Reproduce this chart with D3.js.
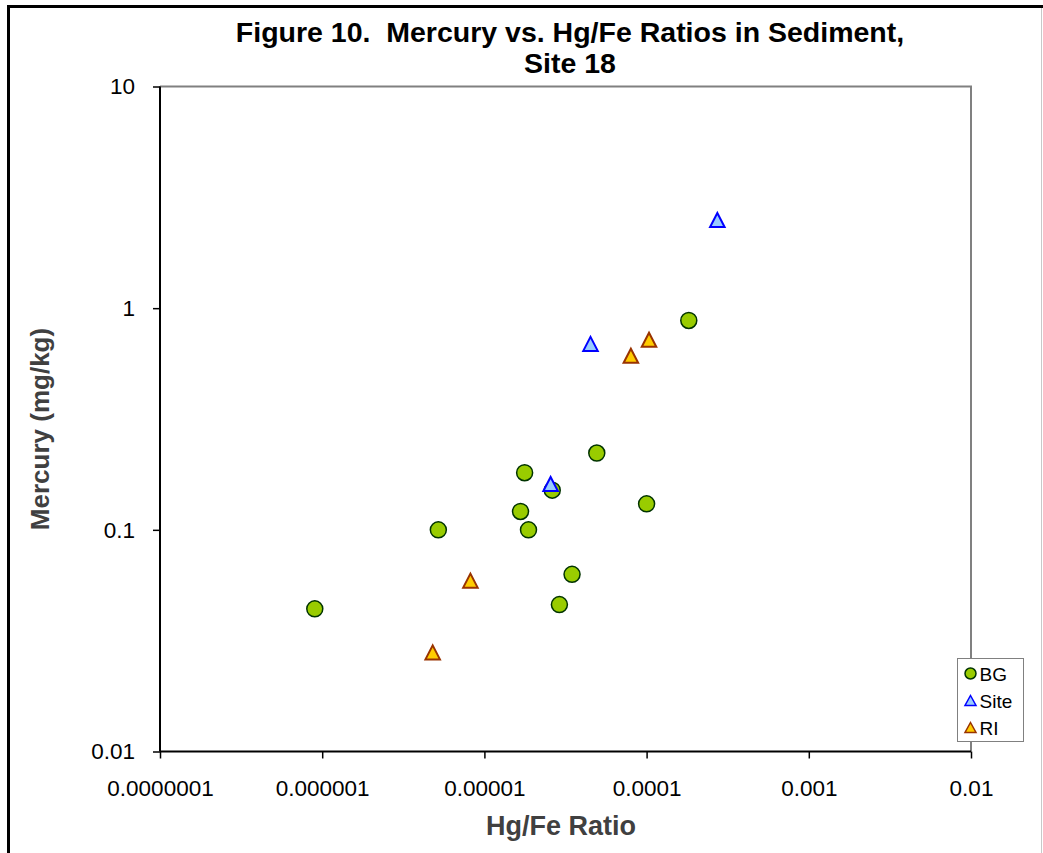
<!DOCTYPE html>
<html>
<head>
<meta charset="utf-8">
<script src="https://cdn.jsdelivr.net/npm/d3@7"></script>
<style>
  body { margin: 0; background: #fff; }
  svg { display: block; font-family: "Liberation Sans", Arial, sans-serif; }
</style>
</head>
<body>
<div id="chart"></div>
<script>
// Values
const bgRatio   = [9.0e-7, 5.2e-6, 1.77e-5, 2.62e-5, 1.67e-5, 1.87e-5, 3.47e-5, 2.9e-5, 4.93e-5, 1.0e-4, 1.82e-4];
const bgHg      = [0.044, 0.100, 0.181, 0.151, 0.121, 0.100, 0.063, 0.046, 0.222, 0.131, 0.88];
const siteRatio = [2.73e-4, 4.51e-5, 2.56e-5];
const siteHg    = [2.5, 0.69, 0.161];
const riRatio   = [1.035e-4, 8.0e-5, 8.2e-6, 4.8e-6];
const riHg      = [0.72, 0.61, 0.059, 0.028];

const xTicks = [1e-7, 1e-6, 1e-5, 1e-4, 1e-3, 1e-2];
const xTickLabels = ["0.0000001", "0.000001", "0.00001", "0.0001", "0.001", "0.01"];
const yTicks = [0.01, 0.1, 1, 10];
const yTickLabels = ["0.01", "0.1", "1", "10"];

const width = 1043, height = 853;
const plot = { left: 160, top: 86.5, right: 971, bottom: 751.5 };

const svg = d3.select("#chart").append("svg")
    .attr("width", width)
    .attr("height", height);

// outer chart frame (left/top black, right light gray, bottom cut off)
svg.append("line").attr("x1", 8.5).attr("y1", 6.5).attr("x2", 8.5).attr("y2", height)
    .attr("stroke", "#000").attr("stroke-width", 3);
svg.append("line").attr("x1", 7).attr("y1", 6.5).attr("x2", width).attr("y2", 6.5)
    .attr("stroke", "#000").attr("stroke-width", 3);
svg.append("line").attr("x1", 1041.5).attr("y1", 8).attr("x2", 1041.5).attr("y2", height)
    .attr("stroke", "#c8c8c8").attr("stroke-width", 1);

const x = d3.scaleLog().domain([1e-7, 1e-2]).range([plot.left, plot.right]);
const y = d3.scaleLog().domain([0.01, 10]).range([plot.bottom, plot.top]);

// plot area border: top and right gray
svg.append("path")
    .attr("d", `M${plot.left},${plot.top}H${plot.right}V${plot.bottom}`)
    .attr("fill", "none")
    .attr("stroke", "#808080")
    .attr("stroke-width", 2);

// axes
const xAxis = svg.append("g")
    .attr("transform", `translate(0,${plot.bottom})`)
    .call(d3.axisBottom(x).tickValues(xTicks).tickSize(7).tickPadding(22)
        .tickFormat((d, i) => xTickLabels[i]));
const yAxis = svg.append("g")
    .attr("transform", `translate(${plot.left},0)`)
    .call(d3.axisLeft(y).tickValues(yTicks).tickSize(7).tickPadding(18)
        .tickFormat((d, i) => yTickLabels[i]));

[xAxis, yAxis].forEach(a => {
    a.select(".domain").attr("stroke", "#000").attr("stroke-width", 2);
    a.selectAll(".tick line").attr("stroke", "#000").attr("stroke-width", 1.5);
    a.selectAll("text")
        .attr("fill", "#000")
        .style("font-size", "22.5px")
        .style("font-family", "'Liberation Sans', Arial, sans-serif");
});
xAxis.select(".domain").attr("d", `M${plot.left},0H${plot.right}`);
yAxis.select(".domain").attr("d", `M0,${plot.top}V${plot.bottom}`);

// titles
svg.append("text")
    .attr("x", 570).attr("y", 42)
    .attr("text-anchor", "middle")
    .style("font-size", "28.5px").style("font-weight", "bold")
    .style("white-space", "pre")
    .text("Figure 10.  Mercury vs. Hg/Fe Ratios in Sediment,");
svg.append("text")
    .attr("x", 570).attr("y", 73)
    .attr("text-anchor", "middle")
    .style("font-size", "28.5px").style("font-weight", "bold")
    .text("Site 18");

svg.append("text")
    .attr("x", 561).attr("y", 835)
    .attr("text-anchor", "middle")
    .attr("fill", "#404040")
    .style("font-size", "27px").style("font-weight", "bold")
    .text("Hg/Fe Ratio");

svg.append("text")
    .attr("transform", "translate(49,429) rotate(-90)")
    .attr("text-anchor", "middle")
    .attr("fill", "#404040")
    .style("font-size", "26px").style("font-weight", "bold")
    .text("Mercury (mg/kg)");

// markers
function triPath(w, h) {
    return `M0,${-h / 2}L${w / 2},${h / 2}L${-w / 2},${h / 2}Z`;
}

const bg = d3.zip(bgRatio, bgHg);
const site = d3.zip(siteRatio, siteHg);
const ri = d3.zip(riRatio, riHg);

svg.append("g").selectAll("circle")
    .data(bg)
    .enter().append("circle")
    .attr("cx", d => x(d[0]))
    .attr("cy", d => y(d[1]))
    .attr("r", 8)
    .attr("fill", "#99cc00")
    .attr("stroke", "#003300")
    .attr("stroke-width", 1.5);

svg.append("g").selectAll("path")
    .data(site)
    .enter().append("path")
    .attr("transform", d => `translate(${x(d[0])},${y(d[1])})`)
    .attr("d", triPath(14.5, 14))
    .attr("fill", "#99ccff")
    .attr("stroke", "#0000ff")
    .attr("stroke-width", 2);

svg.append("g").selectAll("path")
    .data(ri)
    .enter().append("path")
    .attr("transform", d => `translate(${x(d[0])},${y(d[1])})`)
    .attr("d", triPath(14.5, 14))
    .attr("fill", "#ffcc00")
    .attr("stroke", "#993300")
    .attr("stroke-width", 2);

// legend
const legend = svg.append("g").attr("transform", "translate(957.5,658.5)");
legend.append("rect")
    .attr("width", 66).attr("height", 83)
    .attr("fill", "#fff")
    .attr("stroke", "#808080")
    .attr("stroke-width", 1);

const legendItems = ["BG", "Site", "RI"];
legendItems.forEach((name, i) => {
    const g = legend.append("g").attr("transform", `translate(13,${15 + i * 27})`);
    if (i === 0) {
        g.append("circle").attr("r", 5.5)
            .attr("fill", "#99cc00").attr("stroke", "#003300").attr("stroke-width", 1.5);
    } else {
        g.append("path").attr("d", triPath(11, 10))
            .attr("fill", i === 1 ? "#99ccff" : "#ffcc00")
            .attr("stroke", i === 1 ? "#0000ff" : "#993300")
            .attr("stroke-width", 1.5);
    }
    g.append("text")
        .attr("x", 9).attr("y", 7)
        .style("font-size", "19px")
        .text(name);
});
</script>
</body>
</html>
